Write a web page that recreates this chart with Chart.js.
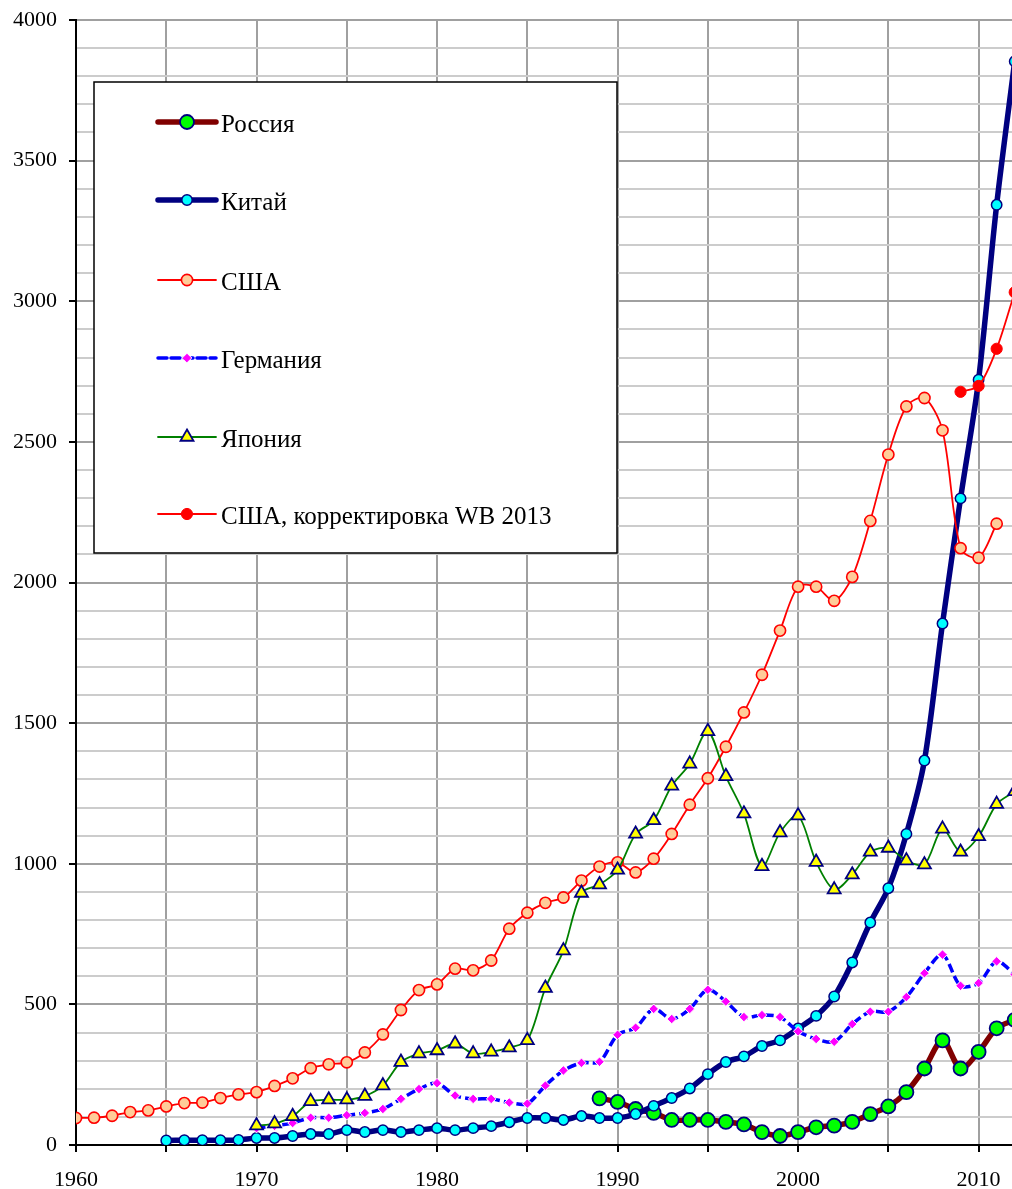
<!DOCTYPE html>
<html><head><meta charset="utf-8">
<script src="https://cdn.jsdelivr.net/npm/chart.js@4"></script>
<style>html,body{margin:0;padding:0;background:#fff;overflow:hidden}</style>
</head><body>
<canvas id="c" width="1012" height="1189" style="display:block;width:1012px;height:1189px"></canvas>
<script>
// ---- data ----
const seriesNames = ["Россия", "Китай", "США", "Германия", "Япония", "США, корректировка WB 2013"];

const russiaStart = 1989;
const russiaValues = [166,153,128,114,89,89,89,82,73,46,32,46,63,69,82,110,137,188,272,372,272,331,415,445];

const chinaStart = 1965;
const chinaValues = [16,17,17,17,18,25,25,32,39,39,53,46,53,46,53,60,53,60,67,81,96,96,89,103,96,96,110,139,167,201,252,295,315,352,372,414,459,528,649,791,913,1106,1367,1854,2299,2721,3343,3853];

const usaStart = 1960;
const usaValues = [96,97,104,117,123,137,149,151,167,180,188,210,237,273,287,294,329,393,480,551,571,627,621,656,769,826,861,880,940,990,1005,969,1018,1106,1210,1304,1416,1538,1672,1829,1985,1985,1935,2020,2219,2455,2626,2656,2541,2122,2088,2209];

const germanyStart = 1970;
const germanyValues = [60,68,78,97,97,106,114,128,164,199,220,176,164,164,151,147,211,265,292,296,392,417,484,448,484,552,510,455,462,455,404,377,367,430,474,474,526,611,677,566,576,653,606];

const japanStart = 1970;
const japanValues = [69,76,102,155,161,161,174,211,295,325,336,360,325,331,346,372,558,691,896,926,978,1106,1154,1277,1355,1471,1311,1178,991,1111,1171,1006,908,961,1042,1056,1011,997,1124,1042,1097,1212,1257];

const usaWbStart = 2009;
const usaWbValues = [2678,2699,2831,3032];

const xTickValues = [1960,1965,1970,1975,1980,1985,1990,1995,2000,2005,2010];
const yMin = 0, yMax = 4000, yStep = 100, yMajor = 500;

// ---- build ----
const toPts = (start, vals) => vals.map((v, i) => ({x: start + i, y: v}));
const FONT = '"Liberation Serif", "Times New Roman", serif';

const datasets = [
  {label: seriesNames[0], data: toPts(russiaStart, russiaValues), borderColor:'#800000', borderWidth:5.5,
   pointStyle:'circle', pointRadius:7, pointBackgroundColor:'#00ff00', pointBorderColor:'#000080', pointBorderWidth:1.8, order:6},
  {label: seriesNames[1], data: toPts(chinaStart, chinaValues), borderColor:'#000080', borderWidth:5.5,
   pointStyle:'circle', pointRadius:5.2, pointBackgroundColor:'#00ffff', pointBorderColor:'#000080', pointBorderWidth:1.5, order:5},
  {label: seriesNames[2], data: toPts(usaStart, usaValues), borderColor:'#ff0000', borderWidth:1.8,
   pointStyle:'circle', pointRadius:5.6, pointBackgroundColor:'#ffcc99', pointBorderColor:'#ff0000', pointBorderWidth:1.6, order:4},
  {label: seriesNames[3], data: toPts(germanyStart, germanyValues), borderColor:'#0000ff', borderWidth:3.5, borderDash:[9,4],
   pointStyle:'rectRot', pointRadius:4.8, pointBackgroundColor:'#ff00ff', pointBorderColor:'#ffffff', pointBorderWidth:1, order:3},
  {label: seriesNames[4], data: toPts(japanStart, japanValues), borderColor:'#008000', borderWidth:1.8,
   pointStyle:'triangle', pointRadius:7.5, pointBackgroundColor:'#ffff00', pointBorderColor:'#000080', pointBorderWidth:1.8, order:2},
  {label: seriesNames[5], data: toPts(usaWbStart, usaWbValues), borderColor:'#ff0000', borderWidth:1.8,
   pointStyle:'circle', pointRadius:5.6, pointBackgroundColor:'#ff0000', pointBorderColor:'#ff0000', pointBorderWidth:1, order:1},
];
datasets.forEach(d => { d.fill = false; d.tension = 0.3; d.pointHoverRadius = d.pointRadius; });

const legendPlugin = {
  id: 'boxLegend',
  afterDraw(chart) {
    const c = chart.ctx;
    c.save();
    const bx = 94, by = 82, bw = 523, bh = 471;
    c.fillStyle = '#fff'; c.fillRect(bx, by, bw, bh);
    c.strokeStyle = '#000'; c.lineWidth = 1.5; c.setLineDash([]); c.strokeRect(bx, by, bw, bh);
    const rows = [122, 200, 280, 358, 437, 514];
    chart.data.datasets.forEach((ds, i) => {
      const y = rows[i];
      c.save();
      c.strokeStyle = ds.borderColor; c.lineWidth = ds.borderWidth; c.lineCap = 'round';
      c.setLineDash(ds.borderDash || []);
      c.beginPath(); c.moveTo(158, y); c.lineTo(216, y); c.stroke();
      c.setLineDash([]);
      c.fillStyle = ds.pointBackgroundColor; c.strokeStyle = ds.pointBorderColor; c.lineWidth = ds.pointBorderWidth;
      Chart.helpers.drawPoint(c, {pointStyle: ds.pointStyle, radius: ds.pointRadius, rotation: 0, borderWidth: ds.pointBorderWidth}, 187, y);
      c.restore();
      c.fillStyle = '#000'; c.font = '25px ' + FONT; c.textBaseline = 'middle'; c.textAlign = 'left';
      c.fillText(ds.label, 221, y + 3);
    });
    c.restore();
  }
};

const noPad = s => { s.paddingLeft = 0; s.paddingRight = 0; s.paddingTop = 0; s.paddingBottom = 0; };

new Chart(document.getElementById('c'), {
  type: 'line',
  data: {datasets},
  plugins: [legendPlugin],
  options: {
    responsive: false, animation: false,
    layout: {autoPadding: false, padding: {top: 20, right: 0, left: 0, bottom: 0}},
    plugins: {legend: {display: false}, tooltip: {enabled: false}},
    scales: {
      x: {
        type: 'linear', min: 1960, max: 2011.85,
        afterBuildTicks: s => { s.ticks = xTickValues.map(v => ({value: v})); },
        afterFit: s => { s.height = 44; noPad(s); },
        ticks: {autoSkip: false, maxRotation: 0, padding: 15, color: '#000', font: {family: FONT, size: 22},
                callback: v => (v % 10 === 0 ? String(v) : '')},
        grid: {color: '#a0a0a0', lineWidth: 2, tickColor: '#000', tickLength: 7, tickWidth: 2},
        border: {display: true, color: '#000', width: 2}
      },
      y: {
        min: yMin, max: yMax,
        afterFit: s => { s.width = 76; noPad(s); },
        ticks: {stepSize: yStep, autoSkip: false, padding: 12, color: '#000', font: {family: FONT, size: 22},
                callback: v => (v % yMajor === 0 ? String(v) : '')},
        grid: {color: ctx => (ctx.tick && ctx.tick.value % yMajor === 0 ? '#a0a0a0' : '#cccccc'), lineWidth: 2,
               tickColor: ctx => (ctx.tick && ctx.tick.value % yMajor === 0 ? '#000' : 'rgba(0,0,0,0)'), tickLength: 7, tickWidth: 2},
        border: {display: true, color: '#000', width: 2}
      }
    }
  }
});
</script>
</body></html>
